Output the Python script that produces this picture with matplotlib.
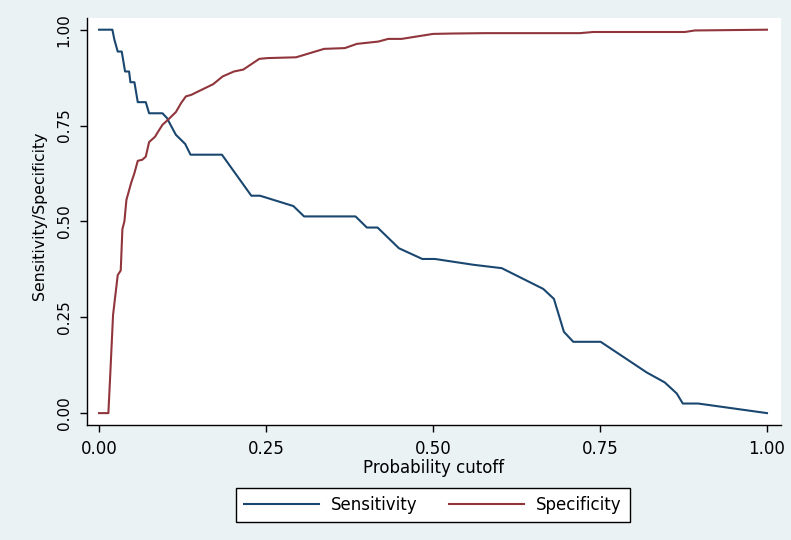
import numpy as np
import matplotlib.pyplot as plt

# cutoff / sensitivity points
sens_cutoff = [0.0, 0.020, 0.023, 0.028, 0.034, 0.039, 0.045, 0.047, 0.053, 0.058,
               0.070, 0.075, 0.095, 0.102, 0.107, 0.115, 0.129, 0.137, 0.184, 0.228,
               0.241, 0.291, 0.307, 0.384, 0.401, 0.417, 0.449, 0.484, 0.503, 0.560,
               0.603, 0.665, 0.681, 0.696, 0.710, 0.751, 0.820, 0.847, 0.865, 0.874,
               0.897, 1.0]
sensitivity = [1.0, 1.0, 0.974, 0.943, 0.943, 0.891, 0.891, 0.863, 0.863, 0.811,
               0.811, 0.782, 0.782, 0.769, 0.752, 0.726, 0.702, 0.674, 0.674, 0.567,
               0.567, 0.540, 0.513, 0.513, 0.484, 0.484, 0.430, 0.402, 0.402, 0.387,
               0.378, 0.324, 0.298, 0.212, 0.186, 0.186, 0.106, 0.080, 0.051, 0.025,
               0.025, 0.0]

spec_cutoff = [0.0, 0.014, 0.0165, 0.021, 0.028, 0.0325, 0.035, 0.038, 0.041, 0.048,
               0.053, 0.058, 0.065, 0.070, 0.075, 0.084, 0.087, 0.095, 0.102, 0.115,
               0.123, 0.130, 0.138, 0.171, 0.185, 0.202, 0.216, 0.240, 0.253, 0.295,
               0.337, 0.368, 0.386, 0.418, 0.433, 0.453, 0.500, 0.528, 0.578, 0.720,
               0.740, 0.877, 0.892, 1.0]
specificity = [0.0, 0.0, 0.089, 0.256, 0.360, 0.372, 0.480, 0.500, 0.556, 0.600,
               0.626, 0.658, 0.661, 0.669, 0.707, 0.721, 0.730, 0.752, 0.763, 0.785,
               0.809, 0.826, 0.830, 0.858, 0.878, 0.891, 0.896, 0.924, 0.926, 0.928,
               0.950, 0.952, 0.963, 0.969, 0.976, 0.976, 0.989, 0.990, 0.991, 0.991,
               0.994, 0.994, 0.998, 1.0]

ticks = [0.0, 0.25, 0.5, 0.75, 1.0]
tick_labels = ['0.00', '0.25', '0.50', '0.75', '1.00']

plt.rcParams['font.family'] = 'DejaVu Sans'

fig = plt.figure(figsize=(7.91, 5.40), dpi=100)
fig.patch.set_facecolor('#EAF2F3')
ax = fig.add_axes([87/791, 1 - 425/540, 694/791, 407/540])
ax.set_facecolor('white')

ax.plot(sens_cutoff, sensitivity, color='#1A476F', lw=1.5, label='Sensitivity')
ax.plot(spec_cutoff, specificity, color='#90353B', lw=1.5, label='Specificity')

ax.set_xlim(-0.018, 1.021)
ax.set_ylim(-0.031, 1.0305)

ax.set_xticks(ticks)
ax.set_xticklabels(tick_labels, fontsize=12)
ax.set_yticks(ticks)
ax.set_yticklabels(tick_labels, fontsize=11, rotation=90, va='center')
ax.tick_params(direction='out', length=5, width=1, color='black', pad=6)

for s in ['top', 'right']:
    ax.spines[s].set_visible(False)
for s in ['left', 'bottom']:
    ax.spines[s].set_color('black')
    ax.spines[s].set_linewidth(1)

ax.set_xlabel('Probability cutoff', fontsize=12)
ax.xaxis.set_label_coords(0.5, -0.083)
ax.set_ylabel('Sensitivity/Specificity', fontsize=11.3)
ax.yaxis.set_label_coords(-0.058, 0.513)

leg = fig.legend(loc='center', bbox_to_anchor=(433/791, 1 - 505/540), ncol=2,
                 fontsize=12, frameon=True, fancybox=False, handlelength=4.5,
                 handletextpad=0.7, columnspacing=1.9, borderpad=0.5)
leg.get_frame().set_edgecolor('black')
leg.get_frame().set_linewidth(1)
leg.get_frame().set_facecolor('white')
leg.get_frame().set_alpha(1)

fig.savefig('out.png', dpi=100, facecolor=fig.get_facecolor())
